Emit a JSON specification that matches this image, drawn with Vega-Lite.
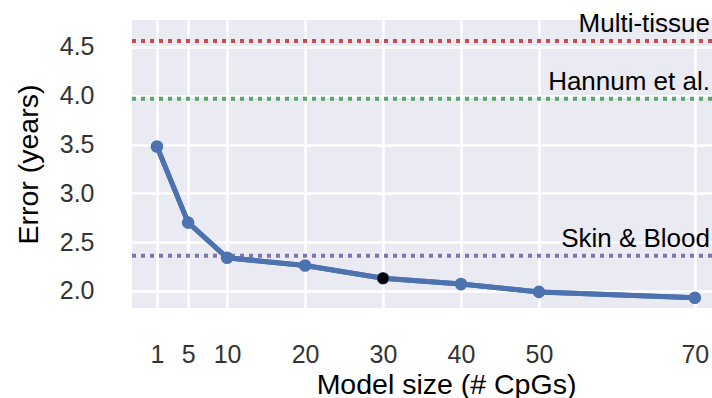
{
  "$schema": "https://vega.github.io/schema/vega-lite/v6.json",
  "width": 580,
  "height": 288,
  "autosize": {"type": "none"},
  "padding": {"left": 132, "top": 20, "right": 0, "bottom": 90},
  "background": "white",
  "config": {
    "font": "Liberation Sans",
    "view": {"fill": "#EAEAF2", "stroke": null},
    "axis": {
      "domain": false,
      "ticks": false,
      "tickSize": 0,
      "grid": true,
      "gridColor": "#FFFFFF",
      "gridWidth": 2.5,
      "labelFont": "Liberation Sans",
      "labelFontSize": 25,
      "labelColor": "#333333",
      "titleFont": "Liberation Sans",
      "titleFontSize": 28.5,
      "titleFontWeight": "normal",
      "titleColor": "#000000"
    }
  },
  "datasets": {
    "points": [
      {"size": 1, "error": 3.48},
      {"size": 5, "error": 2.70},
      {"size": 10, "error": 2.34},
      {"size": 20, "error": 2.26},
      {"size": 30, "error": 2.13},
      {"size": 40, "error": 2.07},
      {"size": 50, "error": 1.99},
      {"size": 70, "error": 1.93}
    ],
    "refs": [
      {"name": "Multi-tissue", "error": 4.56},
      {"name": "Hannum et al.", "error": 3.97},
      {"name": "Skin & Blood", "error": 2.36}
    ]
  },
  "layer": [
    {
      "data": {"name": "points"},
      "mark": {"type": "line", "color": "#4C72B0", "strokeWidth": 5},
      "encoding": {
        "x": {
          "field": "size",
          "type": "quantitative",
          "scale": {"domain": [-2.2, 72.2], "nice": false, "zero": false},
          "axis": {
            "title": "Model size (# CpGs)",
            "values": [1, 5, 10, 20, 30, 40, 50, 70],
            "labelPadding": 34,
            "titleX": 314,
            "titleY": 85,
            "titleBaseline": "alphabetic",
            "titleAlign": "center"
          }
        },
        "y": {
          "field": "error",
          "type": "quantitative",
          "scale": {"domain": [1.825, 4.776], "nice": false, "zero": false},
          "axis": {
            "title": "Error (years)",
            "values": [2, 2.5, 3, 3.5, 4, 4.5],
            "format": ".1f",
            "labelPadding": 38,
            "titleX": -104,
            "titleY": 144,
            "titleAngle": -90,
            "titleBaseline": "middle",
            "titleAlign": "center"
          }
        }
      }
    },
    {
      "data": {"name": "refs"},
      "mark": {"type": "rule", "strokeWidth": 4, "strokeDash": [4, 5]},
      "encoding": {
        "y": {"field": "error", "type": "quantitative", "title": "Error (years)"},
        "color": {
          "field": "name",
          "type": "nominal",
          "scale": {"domain": ["Multi-tissue", "Hannum et al.", "Skin & Blood"], "range": ["#C44E52", "#55A868", "#8172B2"]},
          "legend": null
        }
      }
    },
    {
      "data": {"name": "points"},
      "mark": {"type": "line", "color": "#4C72B0", "strokeWidth": 5},
      "encoding": {
        "x": {"field": "size", "type": "quantitative", "title": "Model size (# CpGs)"},
        "y": {"field": "error", "type": "quantitative", "title": "Error (years)"}
      }
    },
    {
      "data": {"name": "points"},
      "mark": {"type": "circle", "color": "#4C72B0", "opacity": 1, "size": 160},
      "encoding": {
        "x": {"field": "size", "type": "quantitative", "title": "Model size (# CpGs)"},
        "y": {"field": "error", "type": "quantitative", "title": "Error (years)"}
      }
    },
    {
      "data": {"name": "points"},
      "transform": [{"filter": "datum.size == 30"}],
      "mark": {"type": "circle", "color": "#000000", "opacity": 1, "size": 130},
      "encoding": {
        "x": {"field": "size", "type": "quantitative", "title": "Model size (# CpGs)"},
        "y": {"field": "error", "type": "quantitative", "title": "Error (years)"}
      }
    },
    {
      "data": {"name": "refs"},
      "mark": {"type": "text", "align": "right", "baseline": "alphabetic", "dx": -2, "dy": -9, "fontSize": 26, "color": "#000000", "font": "Liberation Sans"},
      "encoding": {
        "x": {"datum": 72.2, "type": "quantitative", "title": "Model size (# CpGs)"},
        "y": {"field": "error", "type": "quantitative", "title": "Error (years)"},
        "text": {"field": "name"}
      }
    }
  ]
}
